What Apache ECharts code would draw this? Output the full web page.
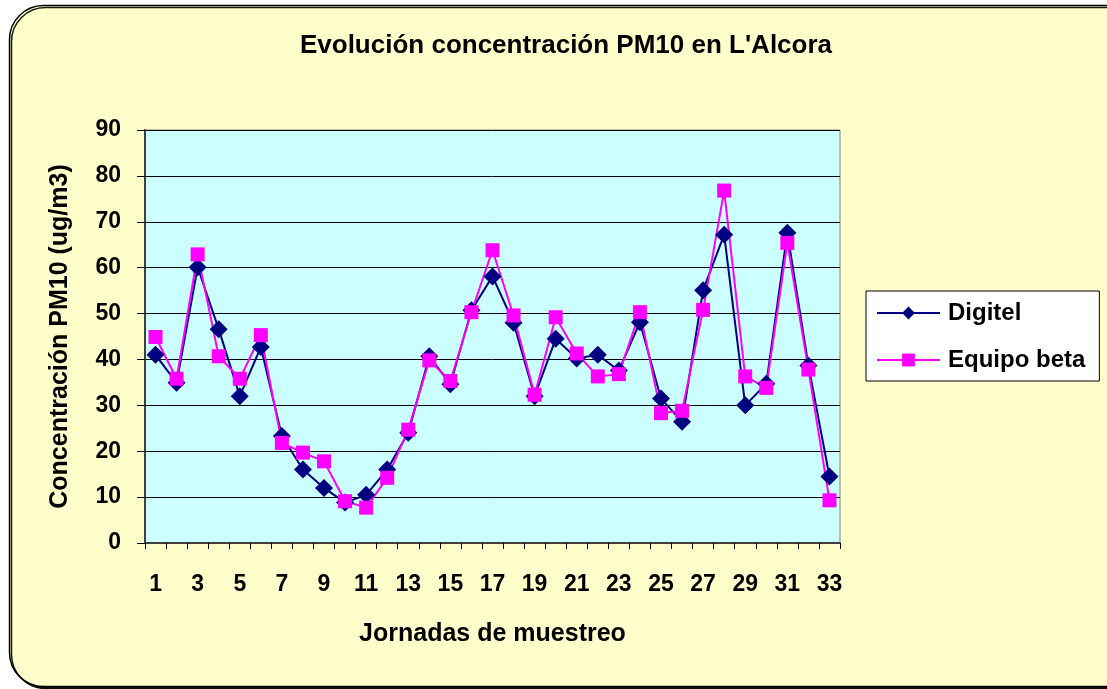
<!DOCTYPE html>
<html>
<head>
<meta charset="utf-8">
<script src="https://cdn.jsdelivr.net/npm/echarts@6/dist/echarts.min.js"></script>
<style>
  html, body { margin: 0; padding: 0; background: #fff; }
  #chart { width: 1107px; height: 689px; }
</style>
</head>
<body>
<div id="chart"></div>
<script>
// jornadas 1..33
var jornadas = [];
for (var i = 1; i <= 33; i++) jornadas.push(String(i));

var digitel = [41.0, 34.9, 60.1, 46.6, 32.0, 42.7, 23.3, 16.0, 12.0, 8.8, 10.5,
               16.0, 24.0, 40.7, 34.6, 50.7, 58.1, 48.0, 32.0, 44.5, 40.2, 41.0,
               37.6, 48.1, 31.5, 26.4, 55.1, 67.2, 30.0, 34.7, 67.6, 38.7, 14.5];
var equipoBeta = [44.9, 35.8, 62.9, 40.7, 35.8, 45.3, 21.8, 19.7, 17.8, 9.1, 7.7,
                  14.2, 24.7, 39.8, 35.3, 50.3, 63.8, 49.6, 32.3, 49.2, 41.3, 36.3,
                  36.8, 50.3, 28.3, 28.8, 50.8, 76.8, 36.3, 33.8, 65.4, 37.8, 9.3];

var font = 'Arial, "Liberation Sans", sans-serif';

var chart = echarts.init(document.getElementById('chart'));
chart.setOption({
  animation: false,
  textStyle: { fontFamily: font },
  graphic: [{
    type: 'rect',
    z: -10,
    shape: { x: 9.5, y: 5.5, width: 1130, height: 681, r: 34 },
    style: { fill: '#FFFFCC', stroke: '#000', lineWidth: 1.5,
             shadowColor: 'rgba(0,0,0,0.9)', shadowOffsetX: 2, shadowOffsetY: 2, shadowBlur: 0 }
  }],
  title: {
    text: "Evolución concentración PM10 en L'Alcora",
    left: 561, top: 28, textAlign: 'center',
    textStyle: { fontSize: 26, fontWeight: 'bold', color: '#000', fontFamily: font }
  },
  legend: {
    orient: 'vertical',
    left: 866, top: 291,
    backgroundColor: '#fff',
    borderColor: '#000', borderWidth: 1,
    padding: [10, 14, 9, 10],
    itemWidth: 63, itemHeight: 16, itemGap: 23,
    textStyle: { fontSize: 24, fontWeight: 'bold', color: '#000', fontFamily: font, padding: [0, 0, 0, 3] },
    data: ['Digitel', 'Equipo beta']
  },
  grid: { left: 145, right: 267, top: 130, bottom: 146, show: true,
          backgroundColor: '#CCFFFF', borderColor: '#808080', borderWidth: 1 },
  xAxis: {
    type: 'category',
    data: jornadas,
    boundaryGap: true,
    name: 'Jornadas de muestreo',
    nameLocation: 'middle', nameGap: 79,
    nameTextStyle: { fontSize: 25, fontWeight: 'bold', color: '#000' },
    axisLine: { lineStyle: { color: '#404040', width: 2 } },
    axisTick: { show: true, inside: false, length: 6, interval: 0, lineStyle: { color: '#000' } },
    axisLabel: { interval: 1, margin: 30, fontSize: 23, fontWeight: 'bold', color: '#000' }
  },
  yAxis: {
    type: 'value',
    min: 0, max: 90, interval: 10,
    name: 'Concentración PM10 (ug/m3)',
    nameLocation: 'middle', nameGap: 72, nameRotate: 90,
    nameTextStyle: { fontSize: 25, fontWeight: 'bold', color: '#000' },
    axisLine: { show: true, lineStyle: { color: '#404040', width: 2 } },
    axisTick: { show: true, length: 8, lineStyle: { color: '#000' } },
    axisLabel: { margin: 24, fontSize: 23, fontWeight: 'bold', color: '#000' },
    splitLine: { lineStyle: { color: '#000', width: 1 } }
  },
  series: [{
    name: 'Digitel',
    type: 'line',
    data: digitel,
    showAllSymbol: true,
    symbol: 'diamond', symbolSize: 18,
    lineStyle: { color: '#000080', width: 2 },
    itemStyle: { color: '#000080' }
  }, {
    name: 'Equipo beta',
    type: 'line',
    data: equipoBeta,
    showAllSymbol: true,
    symbol: 'rect', symbolSize: 14,
    lineStyle: { color: '#FF00FF', width: 2 },
    itemStyle: { color: '#FF00FF' }
  }]
});
</script>
</body>
</html>
